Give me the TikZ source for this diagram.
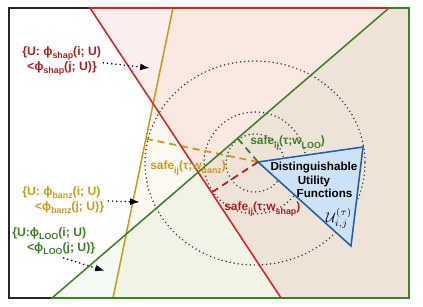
\documentclass[tikz,border=0pt]{standalone}
\usepackage{fontspec}
\setmainfont{Liberation Sans}
\usetikzlibrary{calc,arrows.meta}
\definecolor{ShapRed}{RGB}{214,36,36}
\definecolor{ShapText}{RGB}{172,32,32}
\definecolor{BanzGold}{RGB}{204,153,28}
\definecolor{LooGreen}{RGB}{62,128,40}
\definecolor{SafeBlue}{RGB}{30,95,170}
\definecolor{SafeFill}{RGB}{205,226,246}
\definecolor{RingGray}{RGB}{60,60,60}
\newcommand{\lsub}[1]{\raisebox{-2.5pt}{\fontsize{6.3}{7}\selectfont #1}}
\tikzset{
  frame/.style={draw=black!85,line width=1.4pt},
  cutline/.style={line width=1.1pt,line join=miter},
  ring/.style={draw=RingGray,line width=1.2pt,line cap=round,dash pattern=on 0pt off 2.9pt},
  pointer/.style={-{Latex[length=7pt,width=5pt]},line width=1.2pt,line cap=round,
    dash pattern=on 0pt off 3pt},
  radius/.style={line width=1.3pt,dash pattern=on 5pt off 3.5pt},
  tri/.style={draw=SafeBlue,fill=SafeFill,line width=1.1pt,line join=miter},
  setlabel/.style={font=\bfseries\fontsize{8.7}{10.6}\selectfont,align=left,
    inner sep=0pt,anchor=north west},
  safelabel/.style={font=\bfseries\fontsize{8.5}{10.6}\selectfont,inner sep=0pt,
    anchor=base west}
}
\begin{document}
\begin{tikzpicture}[x=0.025cm,y=-0.025cm]
  \useasboundingbox (0,0) rectangle (423,307);
  % frame corners
  \coordinate (nw) at (9,8);
  \coordinate (ne) at (409,8);
  \coordinate (se) at (409,298);
  \coordinate (sw) at (9,298);
  % the three cuts
  \coordinate (shaptop) at (90,8);
  \coordinate (shapbot) at (281,298);
  \coordinate (banztop) at (173,8);
  \coordinate (banzbot) at (113,298);
  \coordinate (loobot) at (52,298);
  \coordinate (lootop) at (389,8);
  % half-planes
  \fill[ShapRed,fill opacity=0.08] (shaptop) -- (ne) -- (se) -- (shapbot) -- cycle;
  \fill[BanzGold,fill opacity=0.06] (banztop) -- (ne) -- (se) -- (banzbot) -- cycle;
  \fill[LooGreen,fill opacity=0.05] (loobot) -- (lootop) -- (ne) -- (se) -- cycle;
  % rings round the corner
  \coordinate (ctr) at (255,163);
  \draw[ring] (ctr) circle (29);
  \draw[ring] (ctr) circle (51);
  \draw[ring] (ctr) ellipse (110 and 102);
  \coordinate (v) at (258,162);
  \coordinate (t2) at (363,147);
  \coordinate (t3) at (351,246);
  \coordinate (loofoot) at ($(loobot)!(v)!(lootop)$);
  \coordinate (banzfoot) at ($(banztop)!(v)!(banzbot)$);
  \coordinate (shapfoot) at ($(shaptop)!(v)!(shapbot)$);
  \draw[radius,draw=LooGreen] (v) -- (loofoot);
  \draw[radius,draw=BanzGold] (v) -- (banzfoot);
  \draw[radius,draw=ShapRed!85!black] (v) -- (shapfoot);
  \draw[frame] (nw) rectangle (se);
  \draw[cutline,draw=BanzGold] (banztop) -- (ne) -- (se) -- (banzbot) -- cycle;
  \draw[cutline,draw=ShapRed] (shaptop) -- (ne) -- (se) -- (shapbot) -- cycle;
  \draw[cutline,draw=LooGreen] (loobot) -- (lootop) -- (ne) -- (se) -- cycle;
  % the target set
  \draw[tri] (v) -- (t2) -- (t3) -- cycle;
  \node[font=\bfseries\fontsize{8.3}{9.6}\selectfont,align=center,inner sep=0pt] (dist)
    at (314,180) {Distinguishable\\Utility\\\hspace*{15pt}Functions};
  \node[text=black!75!blue,inner sep=0pt] (uset) at (339,218) {$\mathcal{U}_{i,j}^{(\tau)}$};
  % distance labels
  \node[safelabel,text=LooGreen] (loosafe) at (250,145) {safe\lsub{ij}(τ;w\lsub{LOO})};
  \node[safelabel,text=BanzGold] (banzsafe) at (150,170) {safe\lsub{ij}(τ;w\lsub{banz})};
  \node[safelabel,text=ShapText] (shapsafe) at (224,211) {safe\lsub{ij}(τ;w\lsub{shap})};
  % set labels
  \node[setlabel,text=ShapText] (shapset) at (22,46)
    {\{U: ϕ\lsub{shap}(i; U)\\\hspace*{3.5pt}<ϕ\lsub{shap}(j; U)\}};
  \node[setlabel,text=BanzGold] (banzset) at (22,186)
    {\{U: ϕ\lsub{banz}(i; U)\\\hspace*{9pt}<ϕ\lsub{banz}(j; U)\}};
  \node[setlabel,text=LooGreen] (looset) at (12,227)
    {\{U:ϕ\lsub{LOO}(i; U)\\\hspace*{10.5pt}<ϕ\lsub{LOO}(j; U)\}};
  \coordinate (shaptip) at (150,68);
  \coordinate (banztip) at (140,202);
  \coordinate (lootip) at (105,271);
  \draw[pointer] ($(shapset.east)+(2,2)$) -- (shaptip);
  \draw[pointer] ($(banzset.east)+(4,1)$) -- (banztip);
  \draw[pointer] ($(looset.south)+(10,3)$) -- (lootip);
\end{tikzpicture}
\end{document}
